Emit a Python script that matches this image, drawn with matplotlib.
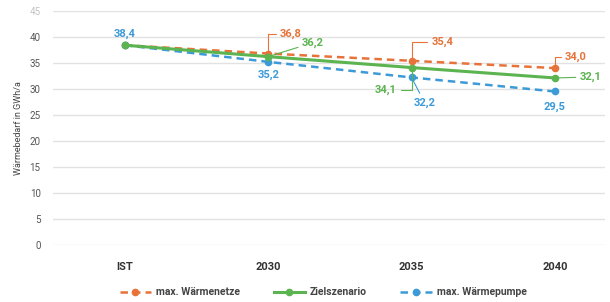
import numpy as np
import matplotlib.pyplot as plt

categories = ["IST", "2030", "2035", "2040"]
waermenetze = [38.4, 36.8, 35.4, 34.0]
zielszenario = [38.4, 36.2, 34.1, 32.1]
waermepumpe = [38.4, 35.2, 32.2, 29.5]
yticks = [0, 5, 10, 15, 20, 25, 30, 35, 40, 45]

orange = "#E8733A"
green = "#5BB450"
blue = "#3C9AD8"

plt.rcParams["font.family"] = ["Roboto", "DejaVu Sans"]

fig = plt.figure(figsize=(6.1, 3.02), dpi=100)
ax = fig.add_axes([0.087, 0.189, 0.905, 0.775])
x = np.arange(len(categories))

ax.plot(x, waermenetze, c=orange, lw=1.8, ls=(0, (3, 2)), marker="o", ms=4.5,
        label="max. Wärmenetze", zorder=3)
ax.plot(x, zielszenario, c=green, lw=2.2, marker="o", ms=4.5,
        label="Zielszenario", zorder=4)
ax.plot(x, waermepumpe, c=blue, lw=1.8, ls=(0, (3, 2)), marker="o", ms=4.5,
        label="max. Wärmepumpe", zorder=3)

ax.set_xlim(-0.5, 3.35)
ax.set_ylim(0, 45)
ax.set_yticks(yticks)
ax.set_yticklabels([str(t) for t in yticks], fontsize=7, color="#555555")
ax.get_yticklabels()[-1].set_alpha(0.35)
ax.set_xticks(x)
ax.set_xticklabels(categories, fontsize=8, fontweight="bold", color="#333333")
ax.tick_params(length=0, axis="y", pad=9)
ax.tick_params(length=0, axis="x", pad=12)
ax.grid(axis="y", color="#e2e2e2", lw=1)
for s in ax.spines.values():
    s.set_visible(False)
ax.set_ylabel("Wärmebedarf in GWh/a", fontsize=6.5, color="#444444", labelpad=5)


def label(i, series, color, dx, dy, ha, conn=None):
    val = series[i]
    txt = f"{val:.1f}".replace(".", ",")
    props = None
    if conn is not None:
        props = dict(arrowstyle="-", color=color, lw=0.8,
                     connectionstyle=conn, shrinkA=1, shrinkB=2)
    ax.annotate(txt, (x[i], val), xytext=(dx * 0.72, dy * 0.72),
                textcoords="offset points", ha=ha, va="center",
                fontsize=8, fontweight="bold", color=color,
                arrowprops=props, zorder=5)


label(0, waermepumpe, blue, 0, 11, "center")
label(1, waermenetze, orange, 12, 20, "left", "angle,angleA=0,angleB=90,rad=0")
label(1, zielszenario, green, 34, 14, "left", "arc3")
label(1, waermepumpe, blue, 0, -13, "center")
label(2, waermenetze, orange, 20, 19, "left", "angle,angleA=0,angleB=90,rad=0")
label(2, zielszenario, green, -15, -22, "right", "angle,angleA=0,angleB=90,rad=0")
label(2, waermepumpe, blue, 2, -25, "left", "arc3")
label(3, waermenetze, orange, 10, 11, "left", "angle,angleA=0,angleB=90,rad=0")
label(3, zielszenario, green, 25, 1, "left", "arc3")
label(3, waermepumpe, blue, 0, -15, "center")

leg = fig.legend(loc="lower center", bbox_to_anchor=(0.53, -0.015), ncol=3,
                 frameon=False, fontsize=7.5, handlelength=3, columnspacing=3.2,
                 handletextpad=0.5)
for t in leg.get_texts():
    t.set_color("#444444")
    t.set_fontweight("bold")

fig.savefig("out.png", dpi=100)
